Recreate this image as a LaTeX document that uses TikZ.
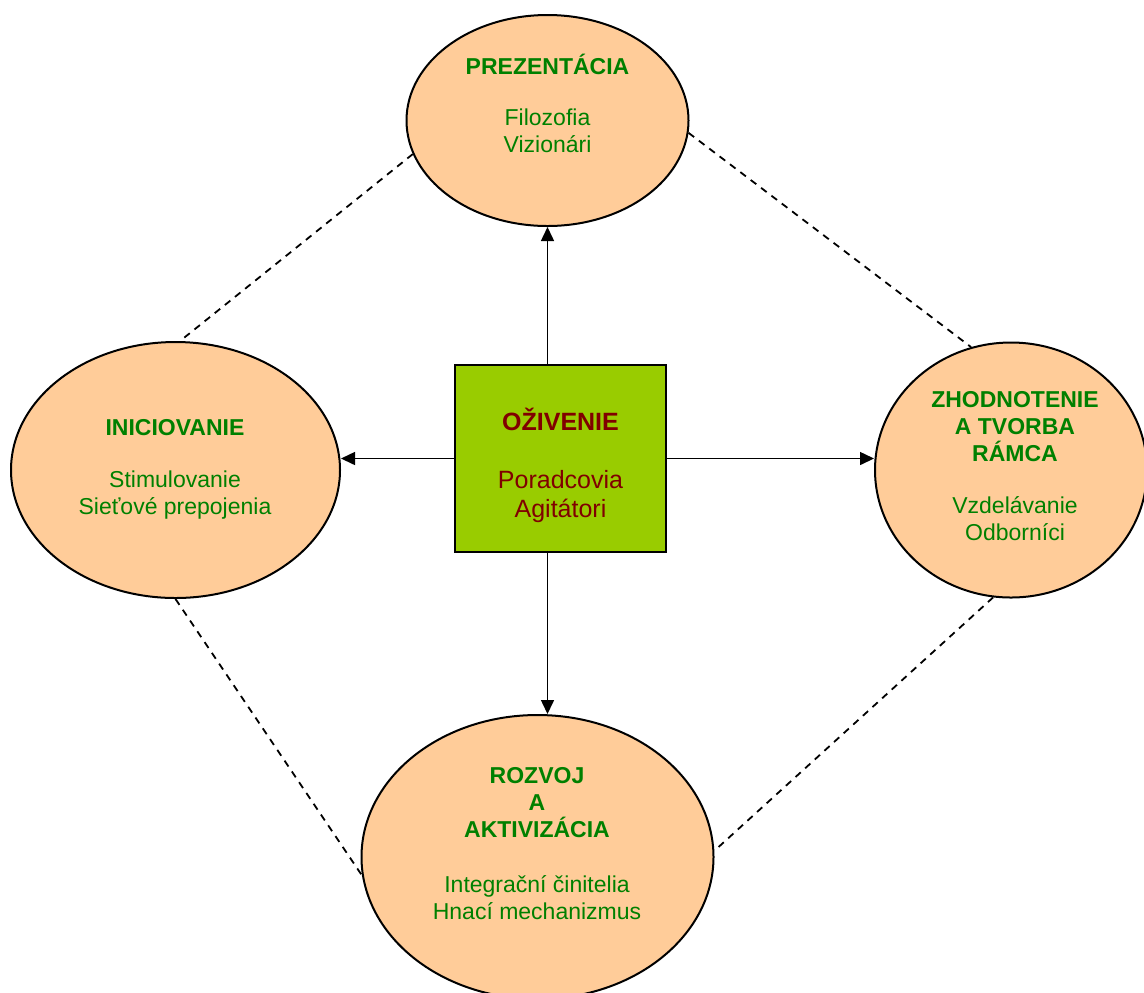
\documentclass[tikz,border=0pt]{standalone}
\usepackage{fontspec}
\setmainfont{Liberation Sans}
\usetikzlibrary{shapes.geometric,arrows.meta}
\definecolor{peach}{HTML}{FFCC99}
\definecolor{limegreen}{HTML}{99CC00}
\definecolor{leafgreen}{HTML}{008000}
\definecolor{ozivred}{HTML}{800000}
\begin{document}
\begin{tikzpicture}[x=0.5pt,y=-0.5pt,
	bubble/.style={ellipse,draw,line width=1pt,fill=peach,inner sep=0pt},
	lbl/.style={align=center,text=leafgreen,font=\fontsize{11.5}{13.5}\selectfont},
	link/.style={-{Triangle[length=7pt,width=6.5pt]},line width=0.75pt},
	tie/.style={dash pattern=on 3.5pt off 3pt,line width=0.9pt}]
	\useasboundingbox (0,0) rectangle (1144,992);
	
	%ellipses
	\node[bubble,minimum width=141pt,minimum height=105.5pt] (prez) at (547.5,120.5){};
	\node[bubble,minimum width=164.5pt,minimum height=128pt] (inic) at (175.5,470){};
	\node[bubble,minimum width=136pt,minimum height=127.5pt] (zhod) at (1011,470){};
	\node[bubble,minimum width=176pt,minimum height=142pt] (rozv) at (537.5,857){};
	
	%texts
	\node[lbl] (prez-t) at (547.5,103){\textbf{PREZENTÁCIA}\\[12pt]Filozofia\\Vizionári};
	\node[lbl] (inic-t) at (175,469){\textbf{INICIOVANIE}\\[12.5pt]Stimulovanie\\Sieťové prepojenia};
	\node[lbl] (zhod-t) at (1015,466){\textbf{ZHODNOTENIE}\\\textbf{A TVORBA}\\\textbf{RÁMCA}\\[12.5pt]Vzdelávanie\\Odborníci};
	\node[lbl] (rozv-t) at (537,844){\textbf{ROZVOJ}\\\textbf{A}\\\textbf{AKTIVIZÁCIA}\\[14pt]Integrační činitelia\\Hnací mechanizmus};
	
	%centre
	\node[draw,line width=1pt,fill=limegreen,minimum width=105.5pt,minimum height=93.5pt] (oziv) at (560.5,458.5){};
	\node[align=center,text=ozivred,font=\fontsize{12.5}{14.5}\selectfont] (oziv-t) at (560.5,465.5)
		{\textbf{OŽIVENIE}\\[14.5pt]Poradcovia\\Agitátori};
	
	%arrows
	\draw[link] (oziv.north -| prez.south) -- (prez.south);
	\draw[link] (oziv.west) -- (oziv.west -| inic.east);
	\draw[link] (oziv.east) -- (oziv.east -| zhod.west);
	\draw[link] (oziv.south -| prez.south) -- (prez.south |- rozv.north);
	
	%dashed ties
	\draw[tie] (prez.194) -- (inic.88);
	\draw[tie] (prez.355) -- (zhod.108);
	\draw[tie] (inic.270) -- (rozv.186);
	\draw[tie] (zhod.262) -- (rozv.2);
\end{tikzpicture}
\end{document}
